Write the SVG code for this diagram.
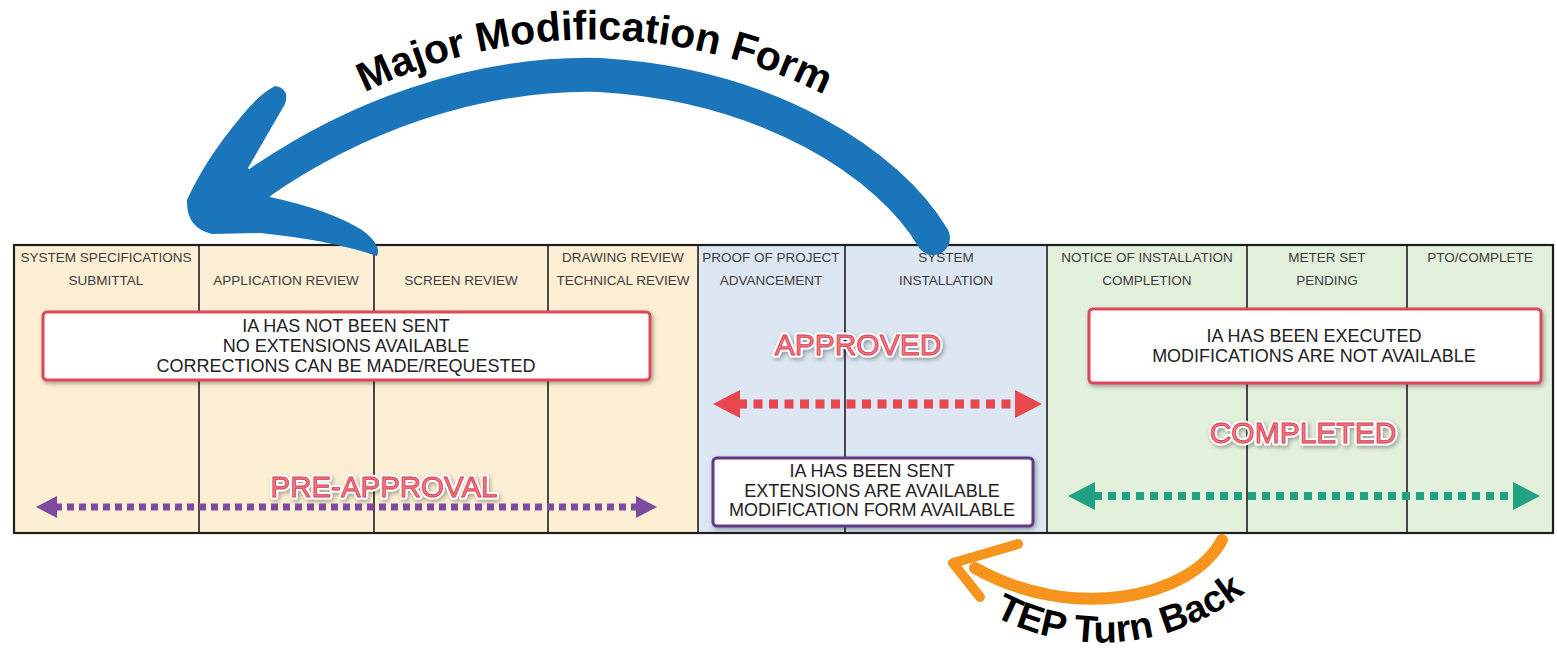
<svg xmlns="http://www.w3.org/2000/svg" width="1557" height="653" viewBox="0 0 1557 653">
<style>
.hdr{font-family:"Liberation Sans",Arial,sans-serif;font-size:13.5px;fill:#3c3c3c;text-anchor:middle}
.box{fill:#ffffff;stroke-width:3}
.boxtxt{font-family:"Liberation Sans",Arial,sans-serif;font-size:18px;fill:#222;text-anchor:middle}
.big{font-family:"Liberation Sans",Arial,sans-serif;font-size:30px;text-anchor:middle;fill:#f07a83;stroke:#fff;stroke-width:5;paint-order:stroke;stroke-linejoin:round}
.bigin{font-family:"Liberation Sans",Arial,sans-serif;font-size:30px;text-anchor:middle;fill:#f07a83;stroke:#d8475a;stroke-width:0.9}
.curve{font-family:"Liberation Sans",Arial,sans-serif;font-weight:bold;fill:#000}
.div{stroke:#1e1e1e;stroke-width:1.6}
</style>
<defs>
<filter id="sh" x="-10%" y="-20%" width="120%" height="150%">
<feDropShadow dx="1.5" dy="2" stdDeviation="2" flood-color="#000" flood-opacity="0.35"/>
</filter>
<path id="arcMajor" d="M 261 160 A 515 515 0 0 1 923 160"/>
<path id="arcTep" d="M 980 608 A 231 231 0 0 0 1290 545"/>
</defs>

<g id="table">
<rect x="14" y="245" width="684" height="288" fill="#fcefd3"/>
<rect x="698" y="245" width="349" height="288" fill="#dce7f3"/>
<rect x="1047" y="245" width="506" height="288" fill="#e3f0dc"/>
<g class="div">
<line x1="199" y1="245" x2="199" y2="533"/>
<line x1="374" y1="245" x2="374" y2="533"/>
<line x1="548" y1="245" x2="548" y2="533"/>
<line x1="698" y1="245" x2="698" y2="533"/>
<line x1="845" y1="245" x2="845" y2="533"/>
<line x1="1047" y1="245" x2="1047" y2="533"/>
<line x1="1247" y1="245" x2="1247" y2="533"/>
<line x1="1407" y1="245" x2="1407" y2="533"/>
</g>
<rect x="14" y="245" width="1539" height="288" fill="none" stroke="#1e1e1e" stroke-width="2.2"/>
</g>

<g id="headers">
<text class="hdr" x="106" y="262">SYSTEM SPECIFICATIONS</text>
<text class="hdr" x="106" y="285">SUBMITTAL</text>
<text class="hdr" x="286" y="285">APPLICATION REVIEW</text>
<text class="hdr" x="461" y="285">SCREEN REVIEW</text>
<text class="hdr" x="623" y="262">DRAWING REVIEW</text>
<text class="hdr" x="623" y="285">TECHNICAL REVIEW</text>
<text class="hdr" x="771" y="262">PROOF OF PROJECT</text>
<text class="hdr" x="771" y="285">ADVANCEMENT</text>
<text class="hdr" x="946" y="262">SYSTEM</text>
<text class="hdr" x="946" y="285">INSTALLATION</text>
<text class="hdr" x="1147" y="262">NOTICE OF INSTALLATION</text>
<text class="hdr" x="1147" y="285">COMPLETION</text>
<text class="hdr" x="1327" y="262">METER SET</text>
<text class="hdr" x="1327" y="285">PENDING</text>
<text class="hdr" x="1480" y="262">PTO/COMPLETE</text>
</g>

<g id="box-preapproval">
<rect class="box" x="43" y="312" width="607" height="68" rx="4" stroke="#d9485a" filter="url(#sh)"/>
<text class="boxtxt" x="346" y="332">IA HAS NOT BEEN SENT</text>
<text class="boxtxt" x="346" y="352">NO EXTENSIONS AVAILABLE</text>
<text class="boxtxt" x="346" y="372">CORRECTIONS CAN BE MADE/REQUESTED</text>
</g>

<g id="box-approved">
<rect class="box" x="713" y="458" width="320" height="68" rx="4" stroke="#5e3a86" filter="url(#sh)"/>
<text class="boxtxt" x="872" y="477">IA HAS BEEN SENT</text>
<text class="boxtxt" x="872" y="497">EXTENSIONS ARE AVAILABLE</text>
<text class="boxtxt" x="872" y="516">MODIFICATION FORM AVAILABLE</text>
</g>

<g id="box-completed">
<rect class="box" x="1089" y="309" width="452" height="74" rx="4" stroke="#d9485a" filter="url(#sh)"/>
<text class="boxtxt" x="1314" y="342">IA HAS BEEN EXECUTED</text>
<text class="boxtxt" x="1314" y="362">MODIFICATIONS ARE NOT AVAILABLE</text>
</g>

<g id="labels">
<g filter="url(#sh)">
<text class="big" x="384" y="497" textLength="227" lengthAdjust="spacingAndGlyphs">PRE-APPROVAL</text>
<text class="big" x="858" y="355">APPROVED</text>
<text class="big" x="1303" y="443">COMPLETED</text>
</g>
<text class="bigin" x="384" y="497" textLength="227" lengthAdjust="spacingAndGlyphs">PRE-APPROVAL</text>
<text class="bigin" x="858" y="355">APPROVED</text>
<text class="bigin" x="1303" y="443">COMPLETED</text>
</g>

<g id="connectors">
<g id="arrow-preapproval" fill="#7e4a9f">
<line x1="55" y1="507" x2="637" y2="507" stroke="#7e4a9f" stroke-width="7" stroke-dasharray="7 5"/>
<polygon points="36,507 57,496 57,518"/>
<polygon points="657,507 636,496 636,518"/>
</g>
<g id="arrow-approved" fill="#e8474d">
<line x1="738" y1="404" x2="1017" y2="404" stroke="#e8474d" stroke-width="9" stroke-dasharray="9 6.5"/>
<polygon points="713,404 740,390 740,418"/>
<polygon points="1042,404 1015,390 1015,418"/>
</g>
<g id="arrow-completed" fill="#22a083">
<line x1="1094" y1="496" x2="1514" y2="496" stroke="#22a083" stroke-width="8" stroke-dasharray="8 6"/>
<polygon points="1068,496 1095,482 1095,510"/>
<polygon points="1540,496 1513,482 1513,510"/>
</g>
<g id="arrow-major">
<path d="M 933 238 C 890 165, 770 85, 600 75 C 470 72, 350 120, 259 183" fill="none" stroke="#1b75bb" stroke-width="34" stroke-linecap="round"/>
<path d="M 275 86 Q 290 88 285 104 L 248 168 L 270 197 Q 330 210 362 230 Q 382 245 377 256 Q 330 240 260 233 L 212 234 Q 186 228 187 200 Q 205 160 240 118 Q 258 95 275 86 Z" fill="#1b75bb"/>
</g>
<g id="arrow-tep" fill="none" stroke="#f7941d" stroke-linecap="round" stroke-linejoin="round">
<path d="M 1222 540 C 1190 600, 1070 622, 975 568" stroke-width="12"/>
<path d="M 1018 544 L 953 563 L 980 597" stroke-width="10"/>
</g>
</g>

<g id="curved-labels">
<text class="curve" font-size="41"><textPath href="#arcMajor" startOffset="124">Major Modification Form</textPath></text>
<text class="curve" font-size="38"><textPath href="#arcTep" startOffset="16">TEP Turn Back</textPath></text>
</g>
</svg>
